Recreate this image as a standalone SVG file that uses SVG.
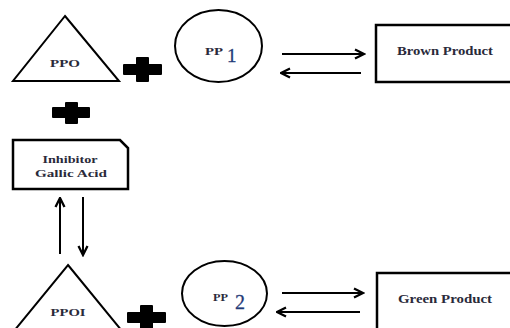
<svg xmlns="http://www.w3.org/2000/svg" width="510" height="328" viewBox="0 0 510 328">
<style>
.shape{fill:#fff;stroke:#000;stroke-width:2}
.box{fill:#fff;stroke:#000;stroke-width:2.5}
.lbl{font-family:"Liberation Serif","Times New Roman",serif;font-weight:bold;fill:#2a2a3a;text-anchor:middle}
.pp{font-family:"Liberation Serif","Times New Roman",serif;font-weight:bold;fill:#2a2a3a;font-size:10.5px}
.num{font-family:"Liberation Serif","Times New Roman",serif;fill:#1f3a78;stroke:#1f3a78;stroke-width:0.3}
.plus{fill:#000}
.conn{stroke:#000;stroke-width:2;fill:none}
</style>
<defs>
<marker id="ah" viewBox="0 0 12 12" refX="10.5" refY="6" markerWidth="12" markerHeight="12" markerUnits="userSpaceOnUse" orient="auto">
<path d="M1.5,1.5 L10.5,6 L1.5,10.5" fill="none" stroke="#000" stroke-width="2.3"/>
</marker>
</defs>
<rect width="510" height="328" fill="#fff"/>
<g id="ppo">
<polygon class="shape" points="65,16 119,81 13,81"/>
<text class="lbl" x="65" y="67" font-size="10.5" textLength="30" lengthAdjust="spacingAndGlyphs">PPO</text>
</g>
<g id="plus1"><rect class="plus" x="123" y="64" width="39" height="11" rx="1"/><rect class="plus" x="136" y="57" width="13" height="25" rx="1"/></g>
<g id="pp1">
<ellipse class="shape" cx="218.5" cy="46" rx="43.5" ry="36"/>
<text x="205" y="55" class="pp" textLength="18" lengthAdjust="spacingAndGlyphs">PP</text>
<text x="227" y="62" class="num" font-size="19">1</text>
</g>
<g id="brown">
<rect class="box" x="376" y="25" width="140" height="57"/>
<text class="lbl" x="445" y="55" font-size="12" textLength="96" lengthAdjust="spacingAndGlyphs">Brown Product</text>
</g>
<g id="plus2"><rect class="plus" x="52" y="107" width="38" height="11" rx="1"/><rect class="plus" x="65" y="102" width="13" height="22" rx="1"/></g>
<g id="inhibitor">
<path class="box" d="M13,140 H120 L128,148 V189 H13 Z"/>
<text class="lbl" x="70" y="163" font-size="11" textLength="55" lengthAdjust="spacingAndGlyphs">Inhibitor</text>
<text class="lbl" x="71" y="177" font-size="11" textLength="72" lengthAdjust="spacingAndGlyphs">Gallic Acid</text>
</g>
<g id="ppoi">
<polygon class="shape" points="68,265 122,331 14,331"/>
<text class="lbl" x="68" y="316" font-size="11" textLength="35" lengthAdjust="spacingAndGlyphs">PPOI</text>
</g>
<g id="plus3"><rect class="plus" x="127" y="312" width="39" height="11" rx="1"/><rect class="plus" x="140" y="305" width="13" height="25" rx="1"/></g>
<g id="pp2">
<ellipse class="shape" cx="224.5" cy="293.5" rx="42.5" ry="32.5"/>
<text x="213" y="301" class="pp" textLength="15" lengthAdjust="spacingAndGlyphs">PP</text>
<text x="235" y="309" class="num" font-size="20">2</text>
</g>
<g id="green">
<rect class="box" x="377" y="273" width="140" height="60"/>
<text class="lbl" x="445" y="303" font-size="12" textLength="94" lengthAdjust="spacingAndGlyphs">Green Product</text>
</g>
<g id="connectors">
<line class="conn" x1="282" y1="54" x2="364" y2="54" marker-end="url(#ah)"/>
<line class="conn" x1="361" y1="73" x2="281" y2="73" marker-end="url(#ah)"/>
<line class="conn" x1="282" y1="293" x2="363" y2="293" marker-end="url(#ah)"/>
<line class="conn" x1="360" y1="312" x2="277" y2="312" marker-end="url(#ah)"/>
<line class="conn" x1="60" y1="254" x2="60" y2="198" marker-end="url(#ah)"/>
<line class="conn" x1="83" y1="197" x2="83" y2="255" marker-end="url(#ah)"/>
</g>
</svg>
